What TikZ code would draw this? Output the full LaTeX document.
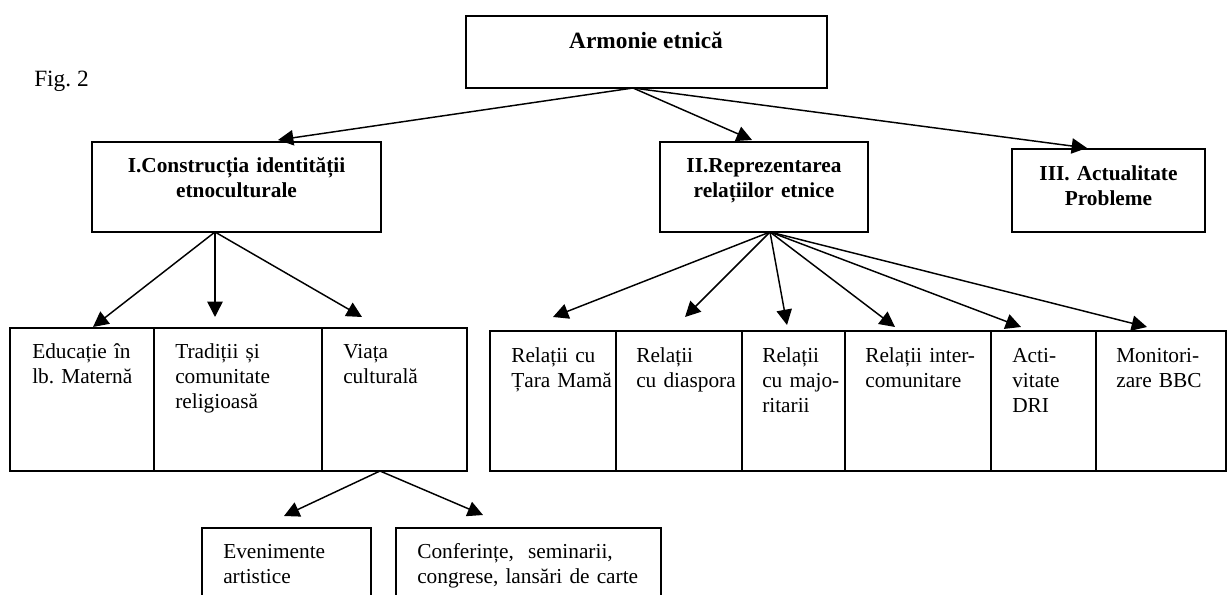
\documentclass[tikz,border=0pt]{standalone}
\usepackage{fontspec}
\setmainfont{Liberation Serif}
\usetikzlibrary{arrows.meta,fit}
\frenchspacing
\begin{document}
\begin{tikzpicture}[x=0.75pt,y=-0.75pt,
  hdr/.style={draw,line width=1.5pt,inner sep=0pt},
  cell/.style={draw,line width=1.2pt,inner sep=0pt},
  arr/.style={line width=1.1pt,-{Triangle[length=11.5pt,width=11.5pt]}},
  txt/.style={inner sep=0pt,align=left,text width=190pt,font=\fontsize{16}{18.75}\selectfont\frenchspacing,anchor=base west},
  htxt/.style={inner sep=0pt,align=center,text width=#1,font=\fontsize{16}{18.5}\selectfont\bfseries\frenchspacing,anchor=base},
]
\clip (0,0) rectangle (1227,595);
\fill[white] (0,0) rectangle (1227,595);

% caption
\node[inner sep=0pt,anchor=base west,font=\fontsize{17.5}{20}\selectfont\frenchspacing] (fig) at (34,87) {Fig. 2};

% top
\node[hdr, fit={(466,16) (827,88)}] (top) {};
\node[inner sep=0pt,anchor=base,font=\fontsize{17.5}{20}\selectfont\bfseries] (topt) at (646,49) {Armonie etnică};

% level 1
\node[hdr, fit={(92,142) (381,232)}] (h1) {};
\node[htxt=200pt] (h1t) at (236.5,173) {I.Construcția identității\\etnoculturale};
\node[hdr, fit={(660,142) (868,232)}] (h2) {};
\node[htxt=150pt] (h2t) at (764,173) {II.Reprezentarea\\relațiilor etnice};
\node[hdr, fit={(1012,149) (1205,232)}] (h3) {};
\node[htxt=140pt] (h3t) at (1108.5,181) {III. Actualitate\\Probleme};

% left group
\node[cell, fit={(10,328) (154,471)}] (c1) {};
\node[cell, fit={(154,328) (322,471)}] (c2) {};
\node[cell, fit={(322,328) (467,471)}] (c3) {};
\node[txt] (c1t) at (32,358) {Educație în\\lb. Maternă};
\node[txt] (c2t) at (175,358) {Tradiții și\\comunitate\\religioasă};
\node[txt] (c3t) at (343,358) {Viața\\culturală};

% right group
\node[cell, fit={(490,331) (616,471)}] (r1) {};
\node[cell, fit={(616,331) (742,471)}] (r2) {};
\node[cell, fit={(742,331) (845,471)}] (r3) {};
\node[cell, fit={(845,331) (991,471)}] (r4) {};
\node[cell, fit={(991,331) (1096,471)}] (r5) {};
\node[cell, fit={(1096,331) (1226,471)}] (r6) {};
\node[txt] (r1t) at (511,362) {Relații cu\\Țara Mamă};
\node[txt] (r2t) at (636,362) {Relații\\cu diaspora};
\node[txt] (r3t) at (762,362) {Relații\\cu majo-\\ritarii};
\node[txt] (r4t) at (865,362) {Relații inter-\\comunitare};
\node[txt] (r5t) at (1012,362) {Acti-\\vitate\\DRI};
\node[txt] (r6t) at (1116,362) {Monitori-\\zare BBC};

% bottom boxes
\node[cell, fit={(202,528) (371,620)}] (b1) {};
\node[cell, fit={(396,528) (661,620)}] (b2) {};
\node[txt] (b1t) at (223,558) {Evenimente\\artistice};
\node[txt] (b2t) at (417,558) {Conferințe,~ seminarii,\\congrese, lansări de carte};

% connector ends
\coordinate (o0) at (633,88);
\coordinate (o1) at (215,232);
\coordinate (o2) at (770,232);
\coordinate (o3) at (380,471);
\coordinate (a1) at (278,140);
\coordinate (a2) at (752,140);
\coordinate (a3) at (1087,148);
\coordinate (e1) at (93,327);
\coordinate (e2) at (215,317);
\coordinate (e3) at (362,317);
\coordinate (f1) at (553,317);
\coordinate (f2) at (685,317);
\coordinate (f3) at (787,325);
\coordinate (f4) at (895,327);
\coordinate (f5) at (1021,327);
\coordinate (f6) at (1147,327);
\coordinate (g1) at (284,516);
\coordinate (g2) at (483,515);

\draw[arr] (o0) -- (a1);
\draw[arr] (o0) -- (a2);
\draw[arr] (o0) -- (a3);
\draw[arr] (o1) -- (e1);
\draw[arr] (o1) -- (e2);
\draw[arr] (o1) -- (e3);
\draw[arr] (o2) -- (f1);
\draw[arr] (o2) -- (f2);
\draw[arr] (o2) -- (f3);
\draw[arr] (o2) -- (f4);
\draw[arr] (o2) -- (f5);
\draw[arr] (o2) -- (f6);
\draw[arr] (o3) -- (g1);
\draw[arr] (o3) -- (g2);
\end{tikzpicture}
\end{document}
